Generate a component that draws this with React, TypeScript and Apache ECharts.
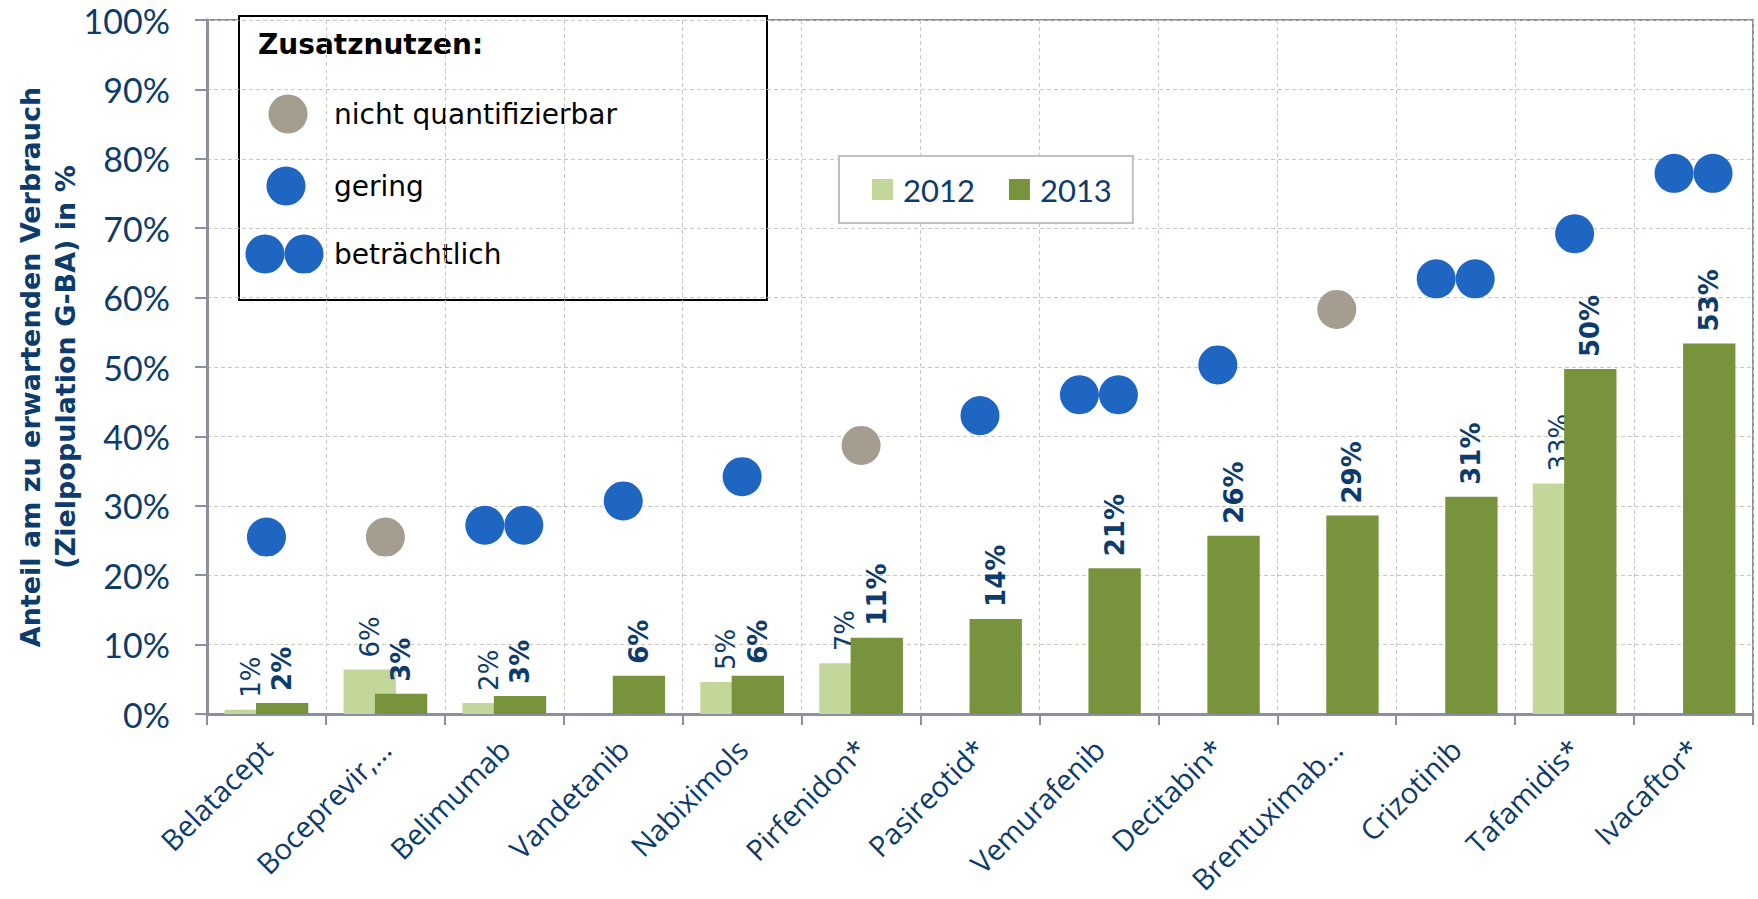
import React, { useEffect, useRef } from "react";
import * as echarts from "echarts";

const categories = [
  "Belatacept",
  "Boceprevir,…",
  "Belimumab",
  "Vandetanib",
  "Nabiximols",
  "Pirfenidon*",
  "Pasireotid*",
  "Vemurafenib",
  "Decitabin*",
  "Brentuximab…",
  "Crizotinib",
  "Tafamidis*",
  "Ivacaftor*",
];
const values2012: (number | null)[] = [0.6, 6.4, 1.6, null, 4.6, 7.3, null, null, null, null, null, 33.2, null];
const values2013: number[] = [1.6, 2.9, 2.6, 5.5, 5.5, 11.0, 13.7, 21.0, 25.7, 28.6, 31.3, 49.7, 53.4];
// Zusatznutzen (additional benefit) marker per drug and its height on the chart
const benefit = [
  "gering",
  "nicht quantifizierbar",
  "beträchtlich",
  "gering",
  "gering",
  "nicht quantifizierbar",
  "gering",
  "beträchtlich",
  "gering",
  "nicht quantifizierbar",
  "beträchtlich",
  "gering",
  "beträchtlich",
];
const markerY = [25.5, 25.5, 27.2, 30.7, 34.2, 38.7, 43.0, 46.0, 50.3, 58.3, 62.7, 69.2, 77.9];
const yMin = 0;
const yMax = 100;
const yInterval = 10;
const seriesNames = ["2012", "2013"];
const yTitle1 = "Anteil am zu erwartenden Verbrauch";
const yTitle2 = "(Zielpopulation G-BA) in %";
const benefitTitle = "Zusatznutzen:";
const benefitLabels = ["nicht quantifizierbar", "gering", "beträchtlich"];

const TEXT = "#0C3B6C";
const LIGHT = "#C4D79B";
const DARK = "#77933C";
const BLUE = "#1E66C2";
const GREY = "#A59D90";
const AXIS = "#8A90A0";
const GRIDC = "#CBC6BE";

export default function App() {
  const ref = useRef<HTMLDivElement>(null);
  useEffect(() => {
    if (!ref.current) return;
    const chart = echarts.init(ref.current, undefined, { renderer: "svg" });
    const pick = (kind: string) => markerY.map((v, i) => (benefit[i] === kind ? v : null));
    const labelFmt = (p: any) => (p.value == null ? "" : Math.round(p.value) + "%");
    const scatterBase = {
      type: "scatter",
      symbol: "circle",
      symbolSize: 39,
      silent: true,
      z: 5,
    };
    chart.setOption({
      animation: false,
      grid: {
        left: 207,
        right: 5,
        top: 20,
        bottom: 185,
        show: true,
        borderColor: AXIS,
        borderWidth: 2,
        containLabel: false,
        outerBoundsMode: "none",
      },
      legend: {
        data: seriesNames,
        left: 839,
        top: 156,
        orient: "horizontal",
        icon: "rect",
        itemWidth: 21,
        itemHeight: 21,
        itemGap: 34,
        padding: [18, 21, 18, 33],
        borderColor: "#BFBFBF",
        borderWidth: 2,
        backgroundColor: "#FFFFFF",
        textStyle: {
          fontFamily: "Lato",
          fontSize: 31,
          color: TEXT,
          padding: [0, 0, 0, 5],
        },
      },
      xAxis: {
        type: "category",
        data: categories,
        boundaryGap: true,
        axisLine: { show: true, lineStyle: { color: AXIS, width: 3 } },
        axisTick: { show: true, length: 11, lineStyle: { color: AXIS, width: 2 } },
        splitLine: { show: true, lineStyle: { color: GRIDC, type: [4, 3], width: 1 } },
        axisLabel: {
          rotate: 45,
          margin: 30,
          interval: 0,
          fontFamily: "Open Sans",
          fontSize: 29,
          color: TEXT,
        },
      },
      yAxis: {
        type: "value",
        min: yMin,
        max: yMax,
        interval: yInterval,
        axisLine: { show: true, lineStyle: { color: AXIS, width: 3 } },
        axisTick: { show: true, length: 12, lineStyle: { color: AXIS, width: 2 } },
        splitLine: { show: true, lineStyle: { color: GRIDC, type: [4, 3], width: 1 } },
        axisLabel: {
          formatter: "{value}%",
          margin: 37,
          fontFamily: "Lato",
          fontSize: 34,
          color: TEXT,
        },
      },
      series: [
        {
          name: seriesNames[0],
          type: "bar",
          data: values2012,
          barWidth: "44%",
          barGap: "-40%",
          itemStyle: { color: LIGHT },
          z: 2,
          label: {
            show: true,
            position: "top",
            rotate: 90,
            align: "left",
            verticalAlign: "middle",
            distance: 12,
            formatter: labelFmt,
            fontFamily: "DejaVu Sans",
            fontSize: 26,
            color: TEXT,
          },
        },
        {
          name: seriesNames[1],
          type: "bar",
          data: values2013,
          barWidth: "44%",
          barGap: "-40%",
          itemStyle: { color: DARK },
          z: 3,
          label: {
            show: true,
            position: "top",
            rotate: 90,
            align: "left",
            verticalAlign: "middle",
            distance: 12,
            formatter: labelFmt,
            fontFamily: "DejaVu Sans",
            fontWeight: "bold",
            fontSize: 26,
            color: TEXT,
          },
        },
        { ...scatterBase, name: "nq", data: pick("nicht quantifizierbar"), itemStyle: { color: GREY, opacity: 1 } },
        { ...scatterBase, name: "g", data: pick("gering"), itemStyle: { color: BLUE, opacity: 1 } },
        { ...scatterBase, name: "b1", data: pick("beträchtlich"), symbolOffset: [-19.5, 0], itemStyle: { color: BLUE, opacity: 1 } },
        { ...scatterBase, name: "b2", data: pick("beträchtlich"), symbolOffset: [19.5, 0], itemStyle: { color: BLUE, opacity: 1 } },
      ],
      graphic: [
        {
          type: "text",
          x: 30,
          y: 367,
          rotation: Math.PI / 2,
          style: {
            text: yTitle1,
            textAlign: "center",
            textVerticalAlign: "middle",
            fontFamily: "DejaVu Sans",
            fontWeight: "bold",
            fontSize: 27,
            fill: TEXT,
          },
        },
        {
          type: "text",
          x: 65,
          y: 367,
          rotation: Math.PI / 2,
          style: {
            text: yTitle2,
            textAlign: "center",
            textVerticalAlign: "middle",
            fontFamily: "DejaVu Sans",
            fontWeight: "bold",
            fontSize: 27,
            fill: TEXT,
          },
        },
        {
          type: "group",
          z: 100,
          children: [
            {
              type: "rect",
              shape: { x: 239, y: 16, width: 528, height: 284 },
              style: { fill: "#FFFFFF", stroke: "#000000", lineWidth: 2 },
            },
            {
              type: "text",
              x: 258,
              y: 44,
              style: {
                text: benefitTitle,
                textVerticalAlign: "middle",
                fontFamily: "DejaVu Sans",
                fontWeight: "bold",
                fontSize: 28,
                fill: "#000000",
              },
            },
            { type: "circle", shape: { cx: 288, cy: 114, r: 19.5 }, style: { fill: GREY } },
            { type: "circle", shape: { cx: 286, cy: 186, r: 19.5 }, style: { fill: BLUE } },
            { type: "circle", shape: { cx: 265, cy: 254, r: 19.5 }, style: { fill: BLUE } },
            { type: "circle", shape: { cx: 304, cy: 254, r: 19.5 }, style: { fill: BLUE } },
            ...benefitLabels.map((t, i) => ({
              type: "text",
              x: 334,
              y: [114, 186, 254][i],
              style: {
                text: t,
                textVerticalAlign: "middle",
                fontFamily: "DejaVu Sans",
                fontSize: 28,
                fill: "#000000",
              },
            })),
          ],
        },
      ],
    });
    return () => chart.dispose();
  }, []);
  return (
    <div
      ref={ref}
      style={{ position: "fixed", left: 0, top: 0, width: 1758, height: 899, background: "#FFFFFF" }}
    />
  );
}
